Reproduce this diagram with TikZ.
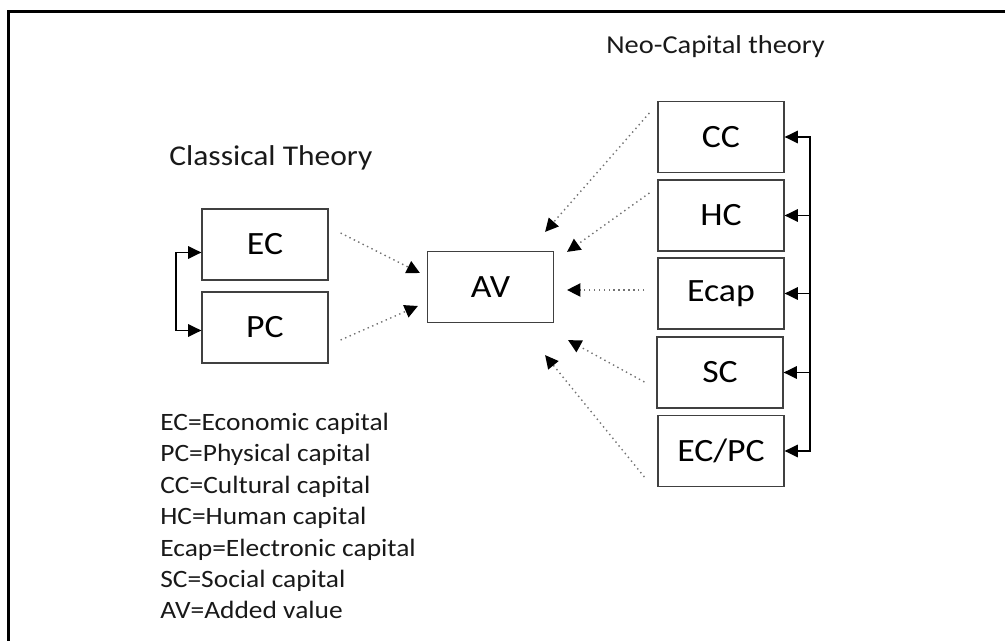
\documentclass[tikz,border=0pt]{standalone}
\usepackage{fontspec}
\setmainfont{Carlito}[FakeStretch=1.1]
\usepackage{xcolor}
\usepackage{tikz}
\usetikzlibrary{arrows.meta, positioning, calc}

\begin{document}
\begin{tikzpicture}[
    x=0.02cm, y=-0.02cm,
    % ── boxes ──
    capBox/.style    = {draw=black!75, fill=white, line width=0.7pt,
                        minimum width=2.52cm, minimum height=1.42cm,
                        inner sep=0pt, font=\fontsize{18.5}{20}\selectfont},
    % ── arrows ──
    dotArr/.style    = {-{Triangle[length=7.5pt, width=7.5pt, black]},
                        black!55, dotted, line width=0.8pt},
    linkArr/.style   = {{Triangle[length=7.5pt, width=7pt]}-{Triangle[length=7.5pt, width=7pt]},
                        black, line width=1.1pt},
    linkTip/.style   = {-{Triangle[length=7.5pt, width=7pt]},
                        black, line width=1.1pt},
    % ── text styles ──
    headLabel/.style = {anchor=base west, inner sep=0pt,
                        font=\fontsize{16.3}{18}\selectfont, text=black!90},
    legendText/.style= {anchor=base west, align=left, inner sep=0pt,
                        font=\fontsize{14.2}{17.9}\selectfont, text=black!90},
]

\useasboundingbox (0,0) rectangle (1005,641);

% outer frame (runs off the right and bottom edges)
\draw[black, line width=1.7pt] (1005,11.5) -- (8.5,11.5) -- (8.5,641);

% =====================================================================
% Classical theory
% =====================================================================
\node[headLabel] (classical) at (169,166) {Classical Theory};

\node[capBox] (EC) at (265,244.5) {EC};
\node[capBox] (PC) at (265,327.5) {PC};

\draw[linkArr] ($(EC.west)+(0,8)$) -- ++(-25,0) |- ($(PC.west)+(0,3)$);

% =====================================================================
% Added value
% =====================================================================
\node[capBox] (AV) at (490.5,287) {AV};

\draw[dotArr] ($(EC.east)+(12,-11.5)$) -- ($(AV.west)+(-7,-14)$);
\draw[dotArr] ($(PC.east)+(12,12.5)$)  -- ($(AV.west)+(-9,19)$);

% =====================================================================
% Neo-Capital theory
% =====================================================================
\node[headLabel, font=\fontsize{14.7}{17}\selectfont] (neo) at (606,54)
  {Neo-Capital theory};

\node[capBox] (CC)   at (721,137)   {CC};
\node[capBox] (HC)   at (721,215.5) {HC};
\node[capBox] (Ecap) at (721,293.5) {Ecap};
\node[capBox] (SC)   at (720,372.5) {SC};
\node[capBox] (ECPC) at (721,451)   {EC/PC};

\draw[dotArr] ($(CC.west)+(-8,-24)$)   -- ($(AV.north east)+(-9,-19)$);
\draw[dotArr] ($(HC.west)+(-8,-22.5)$) -- ($(AV.north east)+(13,1)$);
\draw[dotArr] ($(Ecap.west)+(-13,-3.5)$) -- ($(AV.east)+(13,3)$);
\draw[dotArr] ($(SC.west)+(-12,9.5)$)  -- ($(AV.south east)+(14,17)$);
\draw[dotArr] ($(ECPC.west)+(-13,26)$) -- ($(AV.south east)+(-9,32)$);

% feedback bar on the right
\coordinate (rbar) at ($(CC.east)+(25,0)$);
\draw[linkArr] (CC.east) -- (rbar) -- (rbar |- ECPC.east) -- (ECPC.east);
\foreach \n in {HC,Ecap,SC}{
  \draw[linkTip] (rbar |- \n.east) -- (\n.east);
}

% =====================================================================
% Legend (base anchor sits on the last line)
% =====================================================================
\node[legendText] (legend) at (160,619) {EC=Economic capital\\
  PC=Physical capital\\
  CC=Cultural capital\\
  HC=Human capital\\
  Ecap=Electronic capital\\
  SC=Social capital\\
  AV=Added value};

\end{tikzpicture}
\end{document}
